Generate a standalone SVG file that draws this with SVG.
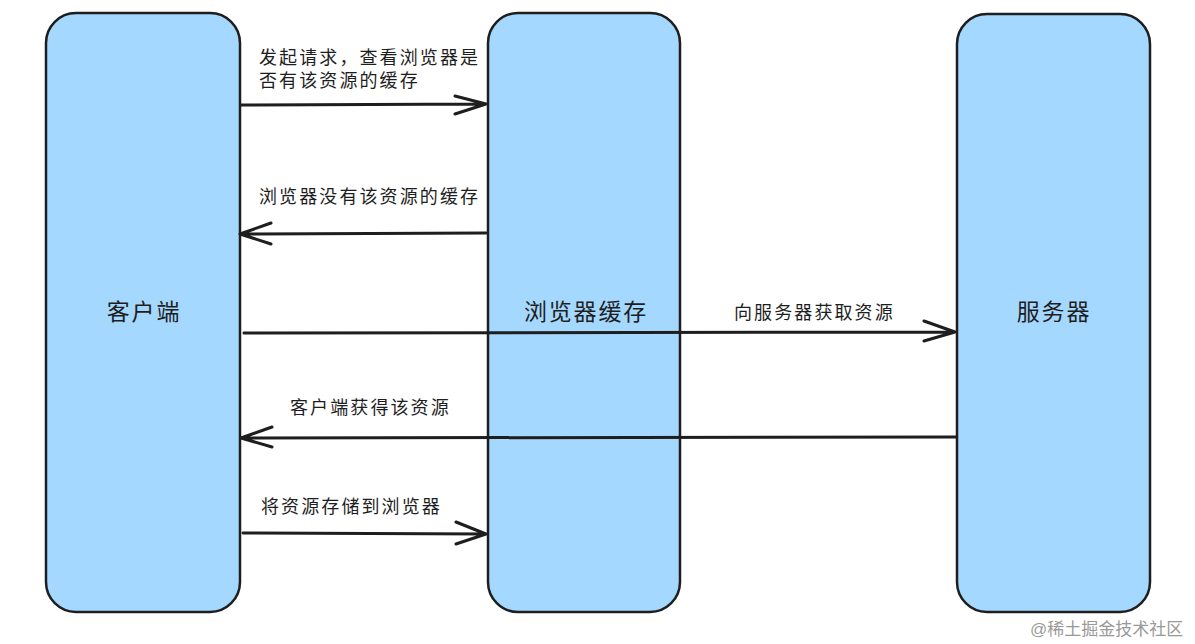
<svg xmlns="http://www.w3.org/2000/svg" width="1195" height="644" viewBox="0 0 1195 644">
<defs>
<style>
.node{fill:#a5d8ff;stroke:#1e1e1e;stroke-width:2.5}
.nl{font-family:"Liberation Sans","Noto Sans CJK SC",sans-serif;font-size:23px;letter-spacing:1.8px;fill:#1e1e1e;text-anchor:middle}
.el{font-family:"Liberation Sans","Noto Sans CJK SC",sans-serif;font-size:18px;letter-spacing:2.1px;fill:#1e1e1e}
.ln{stroke:#1e1e1e;stroke-width:3;fill:none;stroke-linecap:round;stroke-linejoin:round}
.wm{font-family:"Liberation Sans","Noto Sans CJK SC",sans-serif;font-size:17px;fill:#999999}
</style>
</defs>
<rect width="1195" height="644" fill="#ffffff"/>
<g id="client"><rect class="node" x="46" y="13" width="194" height="599" rx="30"/><text class="nl" x="144" y="320">客户端</text></g>
<g id="cache"><rect class="node" x="488" y="13" width="192" height="599" rx="30"/><text class="nl" x="586" y="320">浏览器缓存</text></g>
<g id="server"><rect class="node" x="957" y="14" width="193" height="598" rx="30"/><text class="nl" x="1054" y="320">服务器</text></g>
<g id="connectors">
<path class="ln" d="M241 105 L486 104 M455 96 L486 104 L455 114"/>
<path class="ln" d="M486 233 L240 234 M271 223 L240 234 L271 244"/>
<path class="ln" d="M244 333 L955 332 M924 321 L955 332 L924 341"/>
<path class="ln" d="M956 437 L241 438 M272 427 L241 438 L272 447"/>
<path class="ln" d="M243 533 L486 534 M456 522 L486 534 L456 544"/>
</g>
<g id="labels">
<text class="el" x="259" y="64">发起请求，查看浏览器是</text>
<text class="el" x="259" y="87">否有该资源的缓存</text>
<text class="el" x="259" y="203">浏览器没有该资源的缓存</text>
<text class="el" x="734" y="319">向服务器获取资源</text>
<text class="el" x="290" y="414">客户端获得该资源</text>
<text class="el" x="261" y="513">将资源存储到浏览器</text>
</g>
<text class="wm" x="1030" y="635">@稀土掘金技术社区</text>
</svg>
